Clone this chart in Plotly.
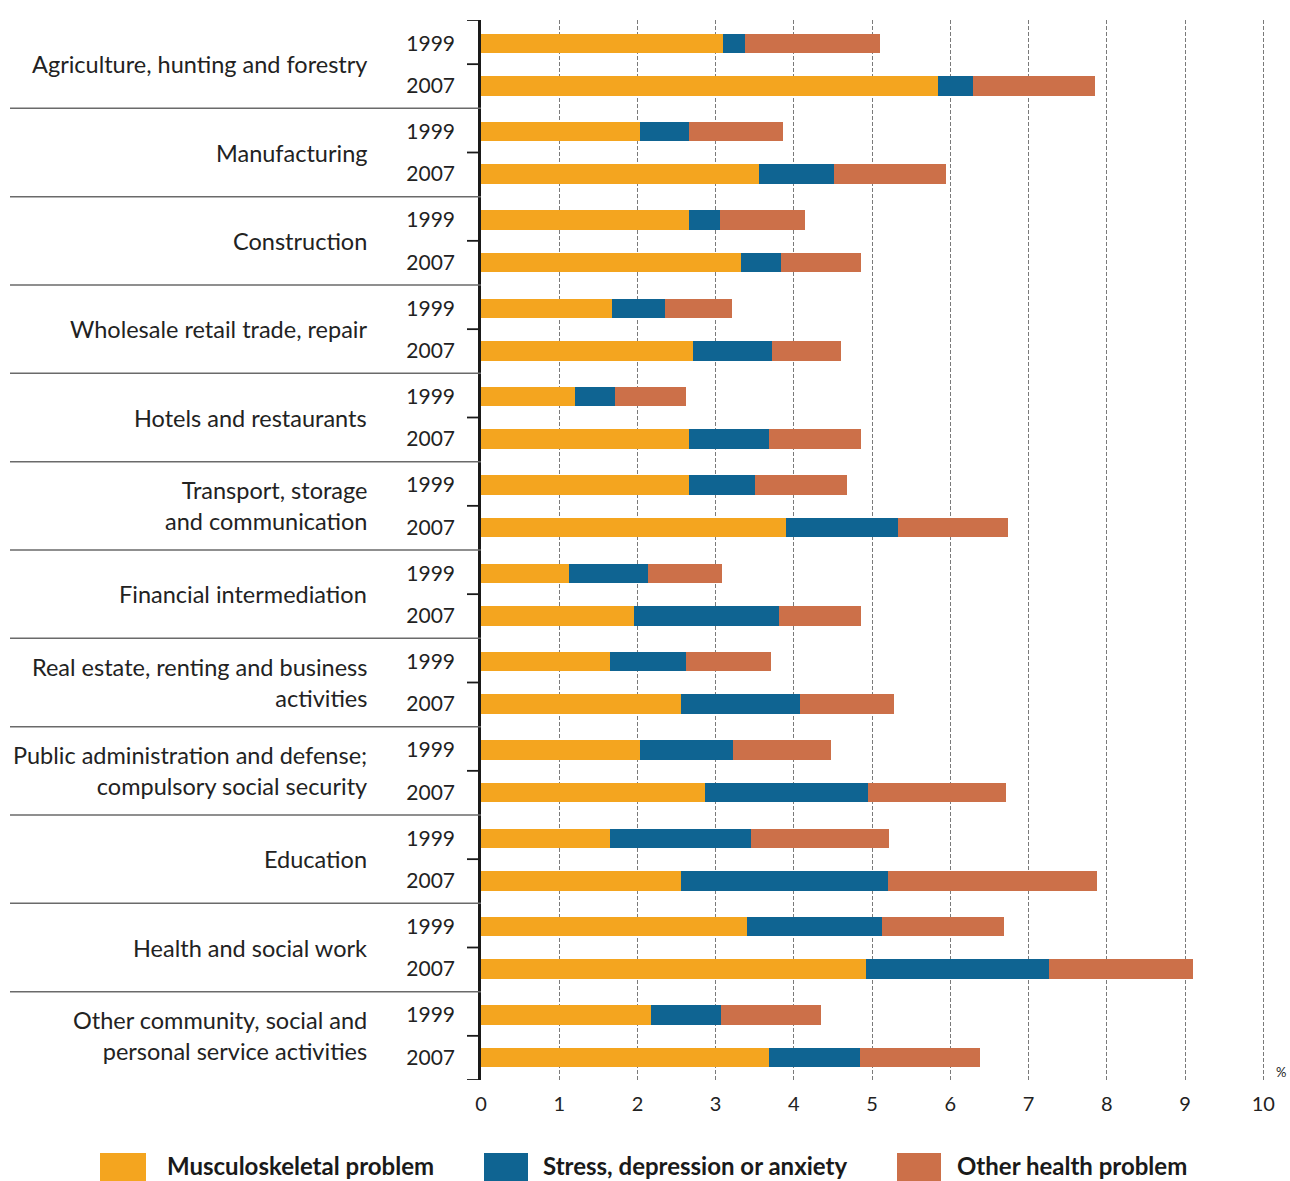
import plotly.graph_objects as go

# ---------------- data ----------------
categories = [
    "Agriculture, hunting and forestry",
    "Manufacturing",
    "Construction",
    "Wholesale retail trade, repair",
    "Hotels and restaurants",
    "Transport, storage\nand communication",
    "Financial intermediation",
    "Real estate, renting and business\nactivities",
    "Public administration and defense;\ncompulsory social security",
    "Education",
    "Health and social work",
    "Other community, social and\npersonal service activities",
]
years = ["1999", "2007"]

musculo_1999 = [3.09, 2.03, 2.66, 1.68, 1.20, 2.66, 1.13, 1.65, 2.03, 1.65, 3.40, 2.17]
musculo_2007 = [5.84, 3.55, 3.32, 2.71, 2.66, 3.90, 1.96, 2.56, 2.86, 2.56, 4.92, 3.68]
stress_1999 = [0.29, 0.63, 0.40, 0.67, 0.51, 0.84, 1.01, 0.97, 1.19, 1.80, 1.73, 0.90]
stress_2007 = [0.45, 0.96, 0.52, 1.01, 1.02, 1.43, 1.85, 1.52, 2.09, 2.64, 2.34, 1.17]
other_1999 = [1.72, 1.20, 1.08, 0.86, 0.91, 1.18, 0.94, 1.09, 1.26, 1.77, 1.56, 1.28]
other_2007 = [1.56, 1.44, 1.02, 0.88, 1.18, 1.41, 1.05, 1.20, 1.76, 2.68, 1.84, 1.53]

series_names = ["Musculoskeletal problem", "Stress, depression or anxiety", "Other health problem"]
series_colors = ["#F4A51F", "#0F6492", "#CC7049"]
x_ticks = list(range(0, 11))

# ---------------- layout geometry ----------------
W, H = 1290, 1181
L, T, B = 481, 20, 101
PX_PER_UNIT = 78.2
XMAX = 10.24
PW = round(XMAX * PX_PER_UNIT)
R = W - L - PW
PH = H - T - B

FONT = "Lato, 'Open Sans', sans-serif"
TXT = "#222222"

n = len(categories)
offset = 0.235
pos_1999 = [i - offset for i in range(n)]
pos_2007 = [i + offset + 0.01 for i in range(n)]
ypos = pos_1999 + pos_2007
ylabels = [years[0]] * n + [years[1]] * n

fig = go.Figure()
series_vals = [
    (musculo_1999, musculo_2007),
    (stress_1999, stress_2007),
    (other_1999, other_2007),
]
for name, (v99, v07), col in zip(series_names, series_vals, series_colors):
    fig.add_trace(go.Bar(
        orientation="h", x=v99 + v07, y=ypos, width=0.22,
        marker=dict(color=col, line=dict(width=0)), name=name, showlegend=False,
    ))


def px_x(px):
    return (px - L) / PW


def px_y(py):
    return (T + PH - py) / PH


shapes = []
# separators between sectors
for i in range(n - 1):
    shapes.append(dict(type="line", xref="paper", yref="y", x0=px_x(10), x1=0,
                       y0=i + 0.5, y1=i + 0.5, line=dict(color="#6a6a6a", width=1.5)))
# short ticks on the axis (sector centres and ends)
for yv in list(range(n)) + [-0.5, n - 0.5]:
    shapes.append(dict(type="line", xref="paper", yref="y", x0=px_x(467), x1=0,
                       y0=yv, y1=yv, line=dict(color="#1a1a1a", width=1.8)))

annotations = []
# sector labels
for i, cat in enumerate(categories):
    annotations.append(dict(text=cat.replace("\n", "<br>"), xref="paper", yref="y",
                            x=px_x(369), y=i, xanchor="right", yanchor="middle",
                            align="right", showarrow=False,
                            font=dict(family=FONT, size=23.5, color=TXT)))
# % unit
annotations.append(dict(text="%", xref="x", yref="paper", x=10.23, y=px_y(1072),
                        xanchor="center", yanchor="middle", showarrow=False,
                        font=dict(family=FONT, size=13, color=TXT)))
# legend (drawn manually to match large swatches)
leg_sw = [(100, 146), (484, 528), (897, 941)]
leg_tx = [165, 541, 955]
for (a, b), tx, name, col in zip(leg_sw, leg_tx, series_names, series_colors):
    shapes.append(dict(type="rect", xref="paper", yref="paper", x0=px_x(a), x1=px_x(b),
                       y0=px_y(1153), y1=px_y(1195), fillcolor=col, line=dict(width=0)))
    annotations.append(dict(text="<b>" + name + "</b>", xref="paper", yref="paper",
                            x=px_x(tx), y=px_y(1165), xanchor="left", yanchor="middle",
                            showarrow=False, font=dict(family=FONT, size=24, color="#1a1a1a")))

fig.update_layout(
    width=W, height=H, autosize=False,
    margin=dict(l=L, r=R, t=T, b=B, pad=0),
    paper_bgcolor="white", plot_bgcolor="white",
    barmode="stack", bargap=0,
    showlegend=False,
    shapes=shapes, annotations=annotations,
    xaxis=dict(range=[0, XMAX], tickvals=x_ticks, ticktext=[str(v) for v in x_ticks],
               ticks="", showgrid=True, gridcolor="#7a7a7a", gridwidth=1, griddash="4px,2px",
               zeroline=False, showline=False, ticklabelstandoff=10,
               tickfont=dict(family=FONT, size=20, color=TXT), fixedrange=True),
    yaxis=dict(range=[n - 0.5, -0.5], tickvals=ypos, ticktext=ylabels, ticks="",
               showgrid=False, zeroline=False, showline=True, linecolor="#1a1a1a", linewidth=2.5,
               ticklabelstandoff=19, tickfont=dict(family=FONT, size=21, color=TXT), fixedrange=True),
)

fig.write_html("out.html")
